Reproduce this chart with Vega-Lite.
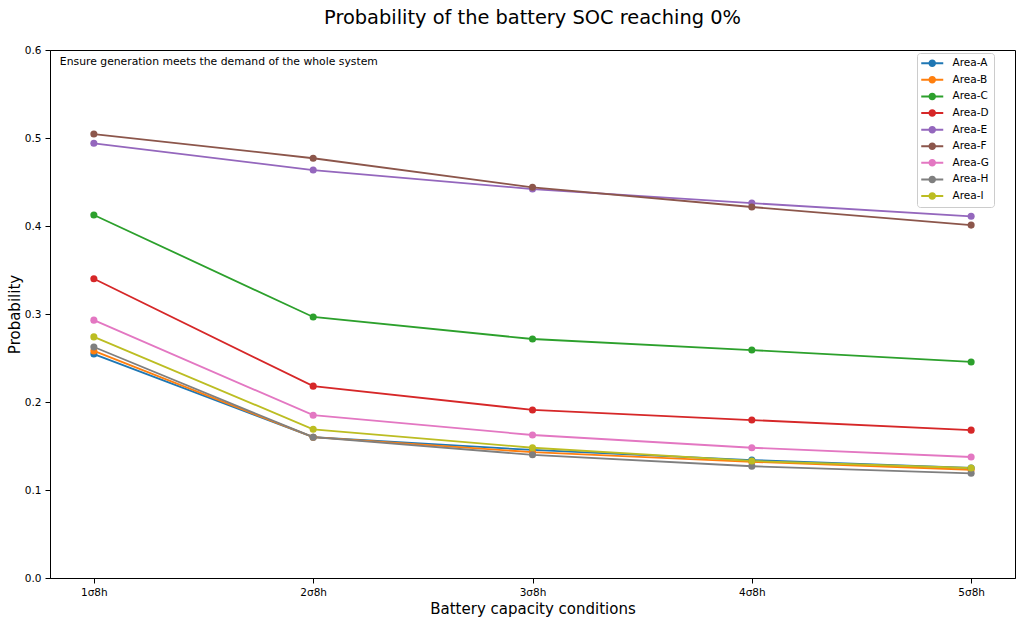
{
  "$schema": "https://vega.github.io/schema/vega-lite/v6.json",
  "width": 965,
  "height": 528,
  "autosize": {"type": "none"},
  "padding": {"left": 50, "top": 50, "right": 9, "bottom": 46},
  "background": "white",
  "config": {
    "font": "DejaVu Sans",
    "view": {"stroke": "black", "strokeWidth": 1},
    "axis": {
      "domainColor": "black", "tickColor": "black", "labelColor": "black", "titleColor": "black",
      "labelFont": "DejaVu Sans", "titleFont": "DejaVu Sans", "labelFontSize": 10.5, "titleFontSize": 15,
      "titleFontWeight": "normal", "tickSize": 5, "grid": false, "labelPadding": 4
    },
    "legend": {"labelFont": "DejaVu Sans", "labelFontSize": 10.5, "labelColor": "black"}
  },
  "title": {
    "text": "Probability of the battery SOC reaching 0%",
    "fontSize": 19.4, "fontWeight": "normal", "font": "DejaVu Sans", "color": "black", "offset": 17
  },
  "datasets": {
    "series": [
      {"cond": "1σ8h", "area": "Area-A", "p": 0.2545},
      {"cond": "2σ8h", "area": "Area-A", "p": 0.160},
      {"cond": "3σ8h", "area": "Area-A", "p": 0.1455},
      {"cond": "4σ8h", "area": "Area-A", "p": 0.134},
      {"cond": "5σ8h", "area": "Area-A", "p": 0.125},
      {"cond": "1σ8h", "area": "Area-B", "p": 0.258},
      {"cond": "2σ8h", "area": "Area-B", "p": 0.160},
      {"cond": "3σ8h", "area": "Area-B", "p": 0.143},
      {"cond": "4σ8h", "area": "Area-B", "p": 0.132},
      {"cond": "5σ8h", "area": "Area-B", "p": 0.123},
      {"cond": "1σ8h", "area": "Area-C", "p": 0.4125},
      {"cond": "2σ8h", "area": "Area-C", "p": 0.2966},
      {"cond": "3σ8h", "area": "Area-C", "p": 0.2716},
      {"cond": "4σ8h", "area": "Area-C", "p": 0.259},
      {"cond": "5σ8h", "area": "Area-C", "p": 0.2455},
      {"cond": "1σ8h", "area": "Area-D", "p": 0.340},
      {"cond": "2σ8h", "area": "Area-D", "p": 0.218},
      {"cond": "3σ8h", "area": "Area-D", "p": 0.191},
      {"cond": "4σ8h", "area": "Area-D", "p": 0.1795},
      {"cond": "5σ8h", "area": "Area-D", "p": 0.168},
      {"cond": "1σ8h", "area": "Area-E", "p": 0.494},
      {"cond": "2σ8h", "area": "Area-E", "p": 0.4636},
      {"cond": "3σ8h", "area": "Area-E", "p": 0.442},
      {"cond": "4σ8h", "area": "Area-E", "p": 0.426},
      {"cond": "5σ8h", "area": "Area-E", "p": 0.411},
      {"cond": "1σ8h", "area": "Area-F", "p": 0.5045},
      {"cond": "2σ8h", "area": "Area-F", "p": 0.477},
      {"cond": "3σ8h", "area": "Area-F", "p": 0.444},
      {"cond": "4σ8h", "area": "Area-F", "p": 0.4216},
      {"cond": "5σ8h", "area": "Area-F", "p": 0.401},
      {"cond": "1σ8h", "area": "Area-G", "p": 0.293},
      {"cond": "2σ8h", "area": "Area-G", "p": 0.185},
      {"cond": "3σ8h", "area": "Area-G", "p": 0.1625},
      {"cond": "4σ8h", "area": "Area-G", "p": 0.148},
      {"cond": "5σ8h", "area": "Area-G", "p": 0.1375},
      {"cond": "1σ8h", "area": "Area-H", "p": 0.2625},
      {"cond": "2σ8h", "area": "Area-H", "p": 0.160},
      {"cond": "3σ8h", "area": "Area-H", "p": 0.140},
      {"cond": "4σ8h", "area": "Area-H", "p": 0.127},
      {"cond": "5σ8h", "area": "Area-H", "p": 0.119},
      {"cond": "1σ8h", "area": "Area-I", "p": 0.274},
      {"cond": "2σ8h", "area": "Area-I", "p": 0.169},
      {"cond": "3σ8h", "area": "Area-I", "p": 0.148},
      {"cond": "4σ8h", "area": "Area-I", "p": 0.133},
      {"cond": "5σ8h", "area": "Area-I", "p": 0.125}
    ],
    "notes": [
      {"cond": "1σ8h", "p": 0.6, "note": "Ensure generation meets the demand of the whole system"}
    ]
  },
  "layer": [
    {
      "data": {"name": "series"},
      "mark": {"type": "line", "strokeWidth": 1.8},
      "encoding": {
        "x": {
          "field": "cond", "type": "ordinal",
          "scale": {"type": "point", "padding": 0.2},
          "axis": {"title": "Battery capacity conditions", "labelAngle": 0, "titlePadding": 4}
        },
        "y": {
          "field": "p", "type": "quantitative",
          "scale": {"domain": [0, 0.6], "nice": false, "zero": true},
          "axis": {"title": "Probability", "values": [0, 0.1, 0.2, 0.3, 0.4, 0.5, 0.6], "format": ".1f", "titlePadding": 2}
        },
        "color": {
          "field": "area", "type": "nominal",
          "scale": {
            "domain": ["Area-A", "Area-B", "Area-C", "Area-D", "Area-E", "Area-F", "Area-G", "Area-H", "Area-I"],
            "range": ["#1f77b4", "#ff7f0e", "#2ca02c", "#d62728", "#9467bd", "#8c564b", "#e377c2", "#7f7f7f", "#bcbd22"]
          },
          "legend": {
            "title": null,
            "orient": "none", "legendX": 867, "legendY": 3,
            "fillColor": "white", "strokeColor": "#cccccc", "cornerRadius": 3, "padding": 5,
            "symbolType": "M-2.2,-0.2H2.2V0.2H-2.2Z M-0.75,0A0.75,0.75 0 1,1 0.75,0A0.75,0.75 0 1,1 -0.75,0Z",
            "symbolSize": 100, "symbolStrokeWidth": 0, "symbolOffset": 5, "labelOffset": 15,
            "rowPadding": 5.6
          }
        }
      }
    },
    {
      "data": {"name": "series"},
      "mark": {"type": "point", "filled": true, "size": 50, "opacity": 1},
      "encoding": {
        "x": {"field": "cond", "type": "ordinal"},
        "y": {"field": "p", "type": "quantitative"},
        "color": {"field": "area", "type": "nominal"}
      }
    },
    {
      "data": {"name": "notes"},
      "mark": {"type": "text", "align": "left", "baseline": "top", "fontSize": 10.8, "dx": -34, "dy": 6, "color": "black", "font": "DejaVu Sans"},
      "encoding": {
        "x": {"field": "cond", "type": "ordinal"},
        "y": {"field": "p", "type": "quantitative"},
        "text": {"field": "note", "type": "nominal"}
      }
    }
  ]
}
